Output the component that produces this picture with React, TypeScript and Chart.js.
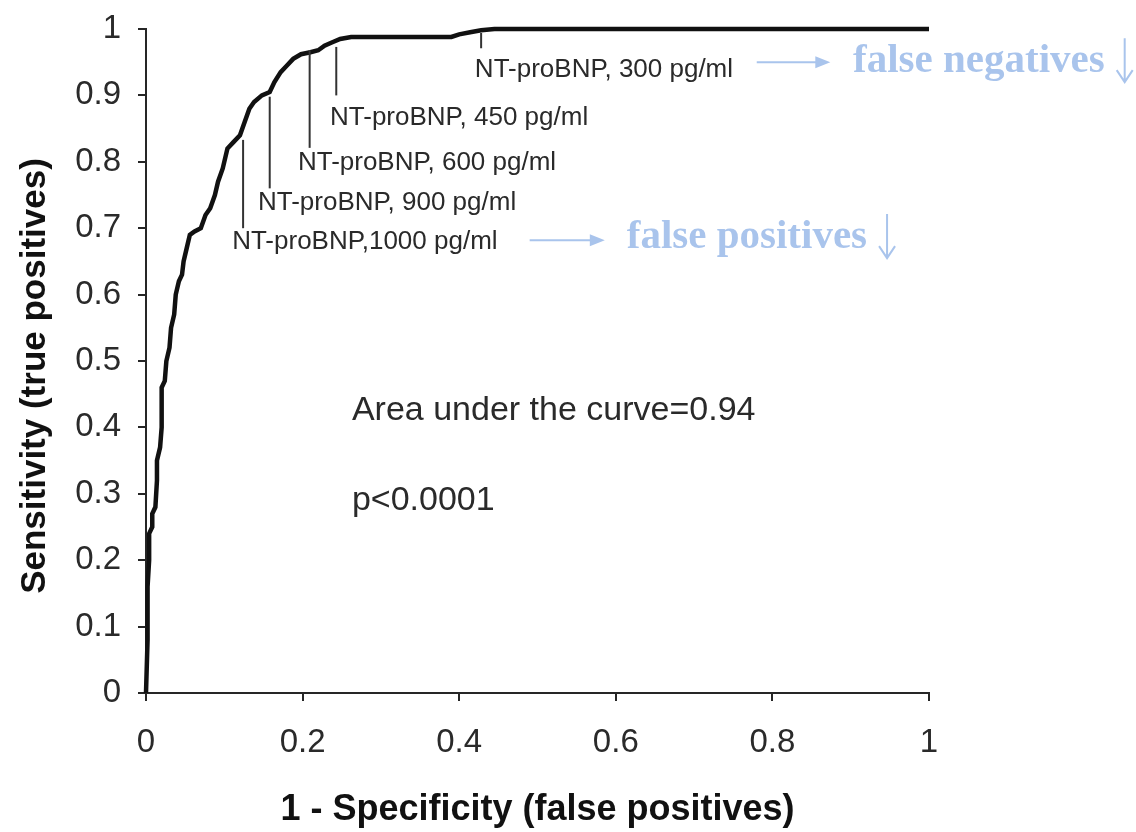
import React, { useEffect, useRef } from "react";
import { Chart, registerables } from "chart.js";

Chart.register(...registerables);

// ROC curve: 1 - specificity (x) and sensitivity (y)
const fprValues = [
  0, 0.002, 0.002, 0.004, 0.004, 0.008, 0.008, 0.012, 0.014, 0.014, 0.018, 0.02, 0.02, 0.024,
  0.026, 0.03, 0.032, 0.036, 0.038, 0.042, 0.046, 0.048, 0.052, 0.056, 0.062, 0.07, 0.076,
  0.082, 0.088, 0.092, 0.098, 0.104, 0.112, 0.12, 0.126, 0.132, 0.138, 0.148, 0.158, 0.164,
  0.172, 0.18, 0.188, 0.198, 0.21, 0.22, 0.228, 0.238, 0.248, 0.262, 0.32, 0.39, 0.4, 0.414,
  0.428, 0.445, 1.0,
];
const tprValues = [
  0, 0.08, 0.16, 0.2, 0.24, 0.25, 0.27, 0.28, 0.32, 0.35, 0.37, 0.4, 0.46, 0.47,
  0.5, 0.52, 0.55, 0.57, 0.6, 0.62, 0.63, 0.65, 0.67, 0.69, 0.695, 0.7, 0.72,
  0.73, 0.75, 0.77, 0.79, 0.82, 0.83, 0.84, 0.86, 0.88, 0.89, 0.9, 0.905, 0.92,
  0.935, 0.945, 0.955, 0.962, 0.965, 0.968, 0.975, 0.98, 0.985, 0.988, 0.988, 0.988, 0.992, 0.995,
  0.998, 1.0, 1.0,
];

const xTickValues = [0, 0.2, 0.4, 0.6, 0.8, 1];
const yTickValues = [0, 0.1, 0.2, 0.3, 0.4, 0.5, 0.6, 0.7, 0.8, 0.9, 1];

const xTitle = "1 - Specificity (false positives)";
const yTitle = "Sensitivity (true positives)";

// Cut-off annotations (in data units)
const cutoffLabels = [
  "NT-proBNP, 300 pg/ml",
  "NT-proBNP, 450 pg/ml",
  "NT-proBNP, 600 pg/ml",
  "NT-proBNP, 900 pg/ml",
  "NT-proBNP,1000 pg/ml",
];
const cutoffFpr = [0.428, 0.243, 0.209, 0.158, 0.124];
const cutoffLineTop = [0.994, 0.973, 0.968, 0.898, 0.833];
const cutoffLineBottom = [0.971, 0.9, 0.821, 0.76, 0.7];
const cutoffLabelFpr = [0.42, 0.235, 0.194, 0.143, 0.11];
const cutoffLabelSens = [0.928, 0.855, 0.788, 0.727, 0.669];

const statTexts = ["Area under the curve=0.94", "p<0.0001"];
const statFpr = [0.263, 0.263];
const statSens = [0.411, 0.276];

const noteTexts = ["false negatives", "false positives"];
const noteTextFpr = [0.903, 0.614];
const noteBaseSens = [0.935, 0.67];
const noteArrowFrom = [0.78, 0.49];
const noteArrowTo = [0.874, 0.586];
const noteArrowSens = [0.95, 0.682];

const TEXT = "#2a2a2a";
const AXIS = "#262626";
const BLUE = "#a9c4ec";

const annotationPlugin = {
  id: "rocAnnotations",
  afterDatasetsDraw(chart: any) {
    const { ctx } = chart;
    const xs = chart.scales.x;
    const ys = chart.scales.y;
    ctx.save();
    // cut-off leader lines and labels
    ctx.strokeStyle = "#333";
    ctx.lineWidth = 2;
    ctx.fillStyle = TEXT;
    ctx.font = "26px 'Liberation Sans', Arial, sans-serif";
    ctx.textBaseline = "alphabetic";
    ctx.textAlign = "left";
    cutoffLabels.forEach((label, i) => {
      const px = xs.getPixelForValue(cutoffFpr[i]);
      ctx.beginPath();
      ctx.moveTo(px, ys.getPixelForValue(cutoffLineTop[i]));
      ctx.lineTo(px, ys.getPixelForValue(cutoffLineBottom[i]));
      ctx.stroke();
      ctx.fillText(label, xs.getPixelForValue(cutoffLabelFpr[i]), ys.getPixelForValue(cutoffLabelSens[i]));
    });
    // statistics
    ctx.font = "34px 'Liberation Sans', Arial, sans-serif";
    statTexts.forEach((t, i) => {
      ctx.fillText(t, xs.getPixelForValue(statFpr[i]), ys.getPixelForValue(statSens[i]));
    });
    // blue notes
    ctx.fillStyle = BLUE;
    ctx.strokeStyle = BLUE;
    ctx.font = "bold 41px 'Liberation Serif', 'Times New Roman', serif";
    noteTexts.forEach((t, i) => {
      const tx = xs.getPixelForValue(noteTextFpr[i]);
      const ty = ys.getPixelForValue(noteBaseSens[i]);
      ctx.fillText(t, tx, ty);
      const w = ctx.measureText(t).width;
      // right arrow
      const ax0 = xs.getPixelForValue(noteArrowFrom[i]);
      const ax1 = xs.getPixelForValue(noteArrowTo[i]);
      const ay = ys.getPixelForValue(noteArrowSens[i]);
      ctx.lineWidth = 2;
      ctx.beginPath();
      ctx.moveTo(ax0, ay);
      ctx.lineTo(ax1 - 10, ay);
      ctx.stroke();
      ctx.beginPath();
      ctx.moveTo(ax1, ay);
      ctx.lineTo(ax1 - 15, ay - 6);
      ctx.lineTo(ax1 - 15, ay + 6);
      ctx.closePath();
      ctx.fill();
      // down arrow after text
      const dx = tx + w + 20;
      const dTop = ty - 34;
      const dBot = ty + 10;
      ctx.lineWidth = 2;
      ctx.beginPath();
      ctx.moveTo(dx, dTop);
      ctx.lineTo(dx, dBot);
      ctx.moveTo(dx - 8, dBot - 12);
      ctx.lineTo(dx, dBot);
      ctx.lineTo(dx + 8, dBot - 12);
      ctx.stroke();
    });
    ctx.restore();
  },
};

// y-axis title drawn by the scale, nudged down a little to match the picture
const yTitlePlugin = {
  id: "yTitleShift",
  afterDraw(chart: any) {
    const ys = chart.scales.y;
    const { ctx } = chart;
    ctx.save();
    ctx.fillStyle = "#111";
    ctx.font = "bold 35px 'Liberation Sans', Arial, sans-serif";
    ctx.textAlign = "center";
    ctx.textBaseline = "middle";
    ctx.translate(ys.left + 35, (ys.top + ys.bottom) / 2 + 15);
    ctx.rotate(-Math.PI / 2);
    ctx.fillText(yTitle, 0, 0);
    ctx.restore();
  },
};

const fmt = (v: number) => String(Math.round(v * 10) / 10);

export default function App() {
  const canvasRef = useRef<HTMLCanvasElement | null>(null);

  useEffect(() => {
    const canvas = canvasRef.current;
    if (!canvas) return;
    const points = fprValues.map((x, i) => ({ x, y: tprValues[i] }));
    const tickFont = { family: "'Liberation Sans', Arial, sans-serif", size: 33 };
    const titleFont = { family: "'Liberation Sans', Arial, sans-serif", size: 36, weight: "bold" as const };
    const chart = new Chart(canvas, {
      type: "scatter",
      data: {
        datasets: [
          {
            data: points,
            showLine: true,
            borderColor: "#111",
            backgroundColor: "#111",
            borderWidth: 4.5,
            pointRadius: 0,
            clip: 10,
          } as any,
        ],
      },
      options: {
        responsive: false,
        animation: false,
        layout: { padding: { top: 29, right: 207, bottom: 0, left: 0 } },
        plugins: { legend: { display: false }, tooltip: { enabled: false } },
        scales: {
          x: {
            type: "linear",
            min: 0,
            max: 1,
            afterBuildTicks: (s: any) => {
              s.ticks = xTickValues.map((v) => ({ value: v }));
            },
            afterFit: (s: any) => {
              s.height = 139;
              s.paddingLeft = 0;
              s.paddingRight = 0;
            },
            ticks: { color: TEXT, font: tickFont, padding: 22, maxRotation: 0, callback: (v: any) => fmt(Number(v)) },
            grid: { drawOnChartArea: false, drawTicks: true, tickLength: 8, color: AXIS, lineWidth: 2 },
            border: { display: true, color: AXIS, width: 2 },
            title: { display: true, text: xTitle, color: "#111", font: titleFont, padding: { top: 0, bottom: 0 } },
          },
          y: {
            type: "linear",
            min: 0,
            max: 1,
            afterBuildTicks: (s: any) => {
              s.ticks = yTickValues.map((v) => ({ value: v }));
            },
            afterFit: (s: any) => {
              s.width = 146;
              s.paddingTop = 0;
              s.paddingBottom = 0;
            },
            ticks: { color: TEXT, font: tickFont, padding: 17, callback: (v: any) => fmt(Number(v)) },
            grid: { drawOnChartArea: false, drawTicks: true, tickLength: 8, color: AXIS, lineWidth: 2 },
            border: { display: true, color: AXIS, width: 2 },
            title: { display: false, text: yTitle },
          },
        },
      },
      plugins: [annotationPlugin, yTitlePlugin],
    });
    return () => chart.destroy();
  }, []);

  return (
    <div style={{ position: "absolute", left: 0, top: 0, width: 1136, height: 832, background: "#fff" }}>
      <canvas ref={canvasRef} width={1136} height={832} style={{ display: "block", width: 1136, height: 832 }} />
    </div>
  );
}
